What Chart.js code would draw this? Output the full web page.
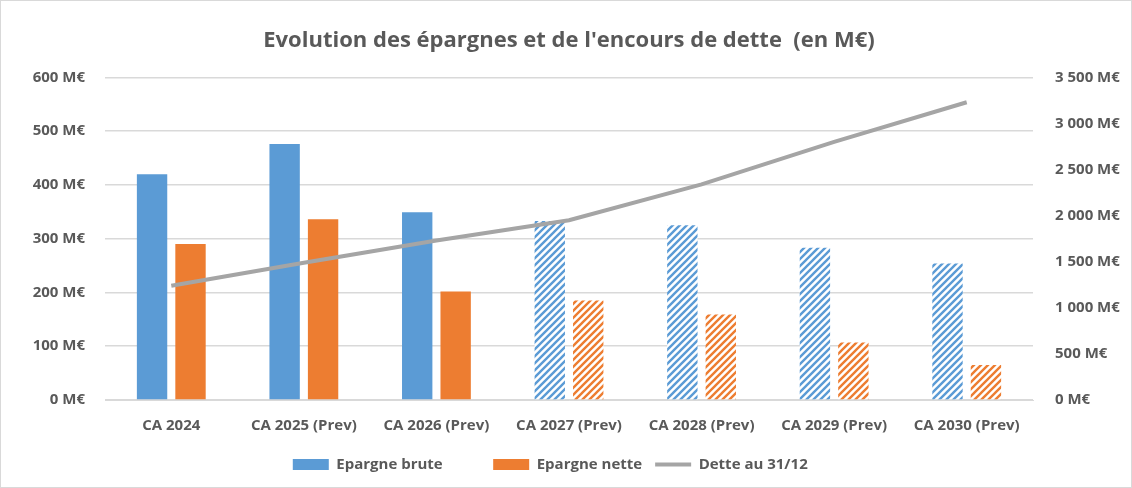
<!DOCTYPE html>
<html>
<head>
<meta charset="utf-8">
<script src="https://cdn.jsdelivr.net/npm/chart.js@4.4.1/dist/chart.umd.min.js"></script>
<style>
  html, body { margin: 0; padding: 0; background: #fff; }
  #wrap { position: relative; width: 1132px; height: 488px; box-sizing: border-box; border: 1px solid #d9d9d9; }
</style>
</head>
<body>
<div id="wrap"><canvas id="debtChart" width="1130" height="486"></canvas></div>
<script>
// Data
const categories = ['CA 2024', 'CA 2025 (Prev)', 'CA 2026 (Prev)', 'CA 2027 (Prev)', 'CA 2028 (Prev)', 'CA 2029 (Prev)', 'CA 2030 (Prev)'];
const epargneBrute = [420, 476, 349, 333, 325, 283, 254];
const epargneNette = [290, 336, 202, 185, 159, 107, 65];
const detteFinAnnee = [1240, 1490, 1730, 1950, 2340, 2800, 3230];
const leftTicks = [0, 100, 200, 300, 400, 500, 600];
const rightTicks = [0, 500, 1000, 1500, 2000, 2500, 3000, 3500];
const firstForecastHatched = 3; // from this index on, bars are hatched

const blue = '#5b9bd5';
const orange = '#ed7d31';
const grey = '#a5a5a5';
const textGrey = '#595959';

function hatch(color) {
    const size = 7;
    const c = document.createElement('canvas');
    c.width = size; c.height = size;
    const g = c.getContext('2d');
    g.fillStyle = '#fff';
    g.fillRect(0, 0, size, size);
    g.strokeStyle = color;
    g.lineWidth = 2.4;
    g.beginPath();
    g.moveTo(-1, size + 1); g.lineTo(size + 1, -1);
    g.moveTo(-1, 1); g.lineTo(1, -1);
    g.moveTo(size - 1, size + 1); g.lineTo(size + 1, size - 1);
    g.stroke();
    return g.createPattern(c, 'repeat');
}

const fmt = v => v.toLocaleString('fr-FR').replace(/\u202f|\u00a0/g, ' ') + ' M€';

const fills = (color) => categories.map((_, i) => i < firstForecastHatched ? color : hatch(color));

const tickFont = { family: 'Open Sans', size: 15, weight: 'bold' };

const ctx = document.getElementById('debtChart').getContext('2d');
new Chart(ctx, {
    type: 'bar',
    data: {
        labels: categories,
        datasets: [{
            label: 'Epargne brute',
            data: epargneBrute,
            backgroundColor: fills(blue),
            yAxisID: 'y',
            pointStyle: 'rect',
            categoryPercentage: 0.58,
            barPercentage: 0.79,
            order: 2
        }, {
            label: 'Epargne nette',
            data: epargneNette,
            backgroundColor: fills(orange),
            yAxisID: 'y',
            pointStyle: 'rect',
            categoryPercentage: 0.58,
            barPercentage: 0.79,
            order: 3
        }, {
            type: 'line',
            label: 'Dette au 31/12',
            data: detteFinAnnee,
            borderColor: grey,
            backgroundColor: grey,
            borderWidth: 4,
            pointRadius: 0,
            pointStyle: 'line',
            tension: 0,
            yAxisID: 'y1',
            order: 1
        }]
    },
    options: {
        responsive: false,
        animation: false,
        layout: { padding: { left: 12, right: 6, top: 10, bottom: 5 } },
        plugins: {
            title: {
                display: true,
                text: "Evolution des épargnes et de l'encours de dette  (en M€)",
                color: textGrey,
                font: { family: 'Open Sans', size: 22, weight: 'bold' },
                padding: { top: 17, bottom: 23 }
            },
            legend: {
                position: 'bottom',
                labels: {
                    usePointStyle: true,
                    pointStyleWidth: 36,
                    boxHeight: 11,
                    color: textGrey,
                    padding: 13,
                    sort: (a, b) => a.datasetIndex - b.datasetIndex,
                    generateLabels: chart => {
                        const items = Chart.defaults.plugins.legend.labels.generateLabels(chart);
                        // widen the gap after the first two entries
                        items.forEach((it, i) => { if (i < items.length - 1) it.text += '\u2003\u2003\u2002'; });
                        return items;
                    },
                    font: tickFont
                }
            },
            tooltip: { enabled: false }
        },
        scales: {
            x: {
                grid: { display: false },
                border: { color: '#d9d9d9' },
                afterFit: axis => { axis.paddingLeft = 0; axis.paddingRight = 0; },
                ticks: {
                    color: textGrey,
                    maxRotation: 0,
                    padding: 9,
                    font: tickFont
                }
            },
            y: {
                position: 'left',
                min: leftTicks[0],
                max: leftTicks[leftTicks.length - 1],
                afterBuildTicks: axis => { axis.ticks = leftTicks.map(v => ({ value: v })); },
                afterFit: axis => { axis.width = 92; },
                grid: { color: '#d9d9d9', lineWidth: 1.5, drawTicks: false },
                border: { display: false },
                ticks: {
                    color: textGrey,
                    padding: 20,
                    callback: v => fmt(v),
                    font: tickFont
                }
            },
            y1: {
                position: 'right',
                min: rightTicks[0],
                max: rightTicks[rightTicks.length - 1],
                afterBuildTicks: axis => { axis.ticks = rightTicks.map(v => ({ value: v })); },
                afterFit: axis => { axis.width = 92; },
                grid: { display: false, drawTicks: false },
                border: { display: false },
                ticks: {
                    color: textGrey,
                    padding: 22,
                    callback: v => fmt(v),
                    font: tickFont
                }
            }
        }
    }
});
</script>
</body>
</html>
